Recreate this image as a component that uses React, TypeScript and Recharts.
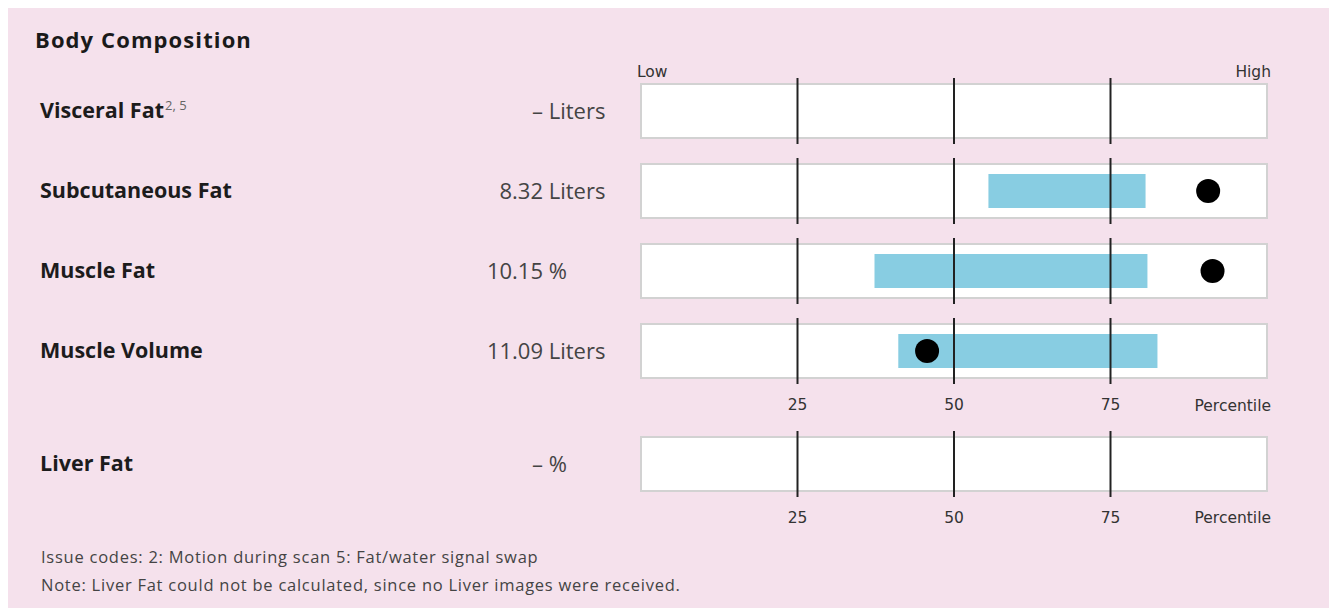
import React from 'react';
import { ComposedChart, Bar, Scatter, XAxis, YAxis } from 'recharts';

// rows of the upper panel
const rowNames = ['Visceral Fat', 'Subcutaneous Fat', 'Muscle Fat', 'Muscle Volume'];
const rowSuperscripts = ['2, 5', '', '', ''];
const rowNumbers = ['–', '8.32', '10.15', '11.09'];
const rowUnits = ['Liters', 'Liters', '%', 'Liters'];
const rangeLow: (number | null)[] = [null, 55.5, 37.3, 41.1];
const rangeHigh: (number | null)[] = [null, 80.6, 80.9, 82.5];
const dotValues: (number | null)[] = [null, 90.6, 91.3, 45.7];

// liver row (lower panel)
const liverName = 'Liver Fat';
const liverNumber = '–';
const liverUnit = '%';

const percentileTicks = [25, 50, 75];
const scaleDomain: [number, number] = [0, 100];

const footnotes = [
  'Issue codes: 2: Motion during scan 5: Fat/water signal swap',
  'Note: Liver Fat could not be calculated, since no Liver images were received.',
];

const BG = '#f5e1ec';
const BLUE = '#88cde2';
const ROW_H = 80;
const PLOT_W = 626;
const CHART_LEFT = 623;
const TOP_A = 53;
const TOP_B = 406;

function BoxShape(props: any) {
  const { x, y, width, height } = props;
  return <rect x={x} y={y} width={width} height={height} fill="#fff" stroke="#d2d2d2" strokeWidth={2} />;
}

function TickMarks(props: any) {
  const { x, y, width, height } = props;
  return (
    <g>
      {percentileTicks.map(t => {
        const px = x + (width * (t - scaleDomain[0])) / (scaleDomain[1] - scaleDomain[0]);
        return <line key={t} x1={px} x2={px} y1={y} y2={y + height} stroke="#222" strokeWidth={2} />;
      })}
    </g>
  );
}

function Dot(props: any) {
  const { cx, cy, payload } = props;
  if (payload?.dot == null || cx == null || cy == null || isNaN(cx)) return null;
  return <circle cx={cx} cy={cy} r={12} fill="#000" />;
}

function RowChart({ data, showRange }: { data: any[]; showRange: boolean }) {
  const height = 10 + data.length * ROW_H + 30 + 4;
  return (
    <ComposedChart
      width={PLOT_W + 20}
      height={height}
      data={data}
      layout="vertical"
      margin={{ top: 10, right: 10, bottom: 4, left: 10 }}
    >
      <XAxis
        type="number"
        domain={scaleDomain}
        ticks={percentileTicks}
        height={30}
        axisLine={false}
        tickLine={false}
        tick={{ fontSize: 15.5, fill: '#333', fontFamily: 'DejaVu Sans' }}
      />
      <YAxis yAxisId="box" type="category" dataKey="name" allowDuplicatedCategory={false} hide />
      <YAxis yAxisId="range" type="category" dataKey="name" allowDuplicatedCategory={false} hide />
      <YAxis yAxisId="marks" type="category" dataKey="name" allowDuplicatedCategory={false} hide />
      <Bar yAxisId="box" dataKey="box" barSize={54} shape={<BoxShape />} isAnimationActive={false} />
      {showRange && (
        <Bar yAxisId="range" dataKey="range" barSize={34} fill={BLUE} isAnimationActive={false} />
      )}
      <Bar yAxisId="marks" dataKey="box" barSize={66} shape={<TickMarks />} isAnimationActive={false} />
      {showRange && (
        <Scatter yAxisId="box" dataKey="dot" shape={<Dot />} isAnimationActive={false} />
      )}
    </ComposedChart>
  );
}

function RowLabel({ cy, name, sup, num, unit }: { cy: number; name: string; sup: string; num: string; unit: string }) {
  return (
    <>
      <div style={{ position: 'absolute', left: 32, top: cy - 17, height: 32, lineHeight: '32px', fontSize: 21.5, fontWeight: 700, color: '#1c1c1c', whiteSpace: 'nowrap' }}>
        {name}
        {sup && <sup style={{ fontSize: 13, fontWeight: 400, color: '#666', verticalAlign: 'super', lineHeight: 0, marginLeft: 1 }}>{sup}</sup>}
      </div>
      <div style={{ position: 'absolute', right: 1322 - 535, top: cy - 17, height: 32, lineHeight: '32px', fontSize: 22, color: '#444', whiteSpace: 'pre' }}>
        {num}
      </div>
      <div style={{ position: 'absolute', left: 535, top: cy - 17, height: 32, lineHeight: '32px', fontSize: 22, color: '#444', whiteSpace: 'pre' }}>
        {' ' + unit}
      </div>
    </>
  );
}

const smallText: React.CSSProperties = {
  position: 'absolute',
  fontSize: 15.5,
  fontFamily: 'DejaVu Sans',
  color: '#333',
  height: 20,
  lineHeight: '20px',
  whiteSpace: 'nowrap',
};

export default function App() {
  const upperData = rowNames.map((name, i) => ({
    name,
    box: [scaleDomain[0], scaleDomain[1]],
    range: rangeLow[i] != null ? [rangeLow[i], rangeHigh[i]] : null,
    dot: dotValues[i],
  }));
  const liverData = [{ name: liverName, box: [scaleDomain[0], scaleDomain[1]], range: null, dot: null }];

  const rowCenterA = (i: number) => TOP_A + 10 + ROW_H * i + ROW_H / 2;
  const rowCenterB = TOP_B + 10 + ROW_H / 2;

  return (
    <div style={{ position: 'relative', width: 1322, height: 600, background: BG, fontFamily: "'Open Sans', sans-serif", overflow: 'hidden' }}>
      <div style={{ position: 'absolute', left: 27, top: 15, height: 32, lineHeight: '32px', fontSize: 22, fontWeight: 700, letterSpacing: 1.1, color: '#1a1a1a' }}>
        Body Composition
      </div>

      <div style={{ ...smallText, left: 629, top: 54 }}>Low</div>
      <div style={{ ...smallText, right: 1322 - 1263, top: 54 }}>High</div>

      {rowNames.map((name, i) => (
        <RowLabel key={name} cy={rowCenterA(i)} name={name} sup={rowSuperscripts[i]} num={rowNumbers[i]} unit={rowUnits[i]} />
      ))}
      <RowLabel cy={rowCenterB} name={liverName} sup="" num={liverNumber} unit={liverUnit} />

      <div style={{ position: 'absolute', left: CHART_LEFT, top: TOP_A }}>
        <RowChart data={upperData} showRange />
      </div>
      <div style={{ ...smallText, right: 1322 - 1263, top: 388 }}>Percentile</div>

      <div style={{ position: 'absolute', left: CHART_LEFT, top: TOP_B }}>
        <RowChart data={liverData} showRange={false} />
      </div>
      <div style={{ ...smallText, right: 1322 - 1263, top: 500 }}>Percentile</div>

      {footnotes.map((t, i) => (
        <div key={i} style={{ position: 'absolute', left: 33, top: 537 + i * 28, height: 24, lineHeight: '24px', fontSize: 16.5, letterSpacing: 0.75, color: '#444', whiteSpace: 'nowrap' }}>
          {t}
        </div>
      ))}
    </div>
  );
}
